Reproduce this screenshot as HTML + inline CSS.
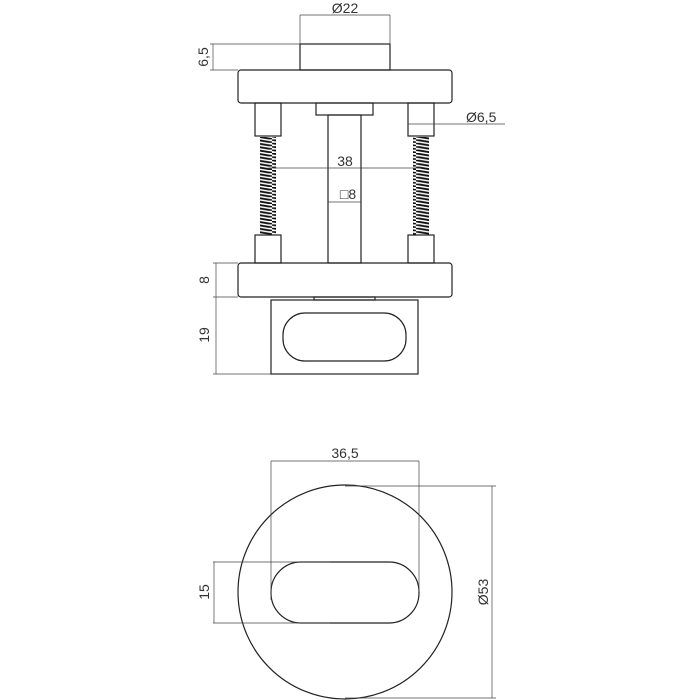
<!DOCTYPE html>
<html><head><style>body{margin:0;background:#fff}svg{display:block}</style></head><body>
<svg width="700" height="700" viewBox="0 0 700 700" xmlns="http://www.w3.org/2000/svg" font-family="Liberation Sans, sans-serif" fill="none" stroke="#222" stroke-width="1.2">
<defs>
<pattern id="coil" width="16" height="3.4" patternUnits="userSpaceOnUse">
<line x1="0" y1="0.4" x2="16" y2="3" stroke="#111" stroke-width="1.9"/>
</pattern>
</defs>
<rect x="300" y="44" width="90" height="26"/>
<rect x="238" y="70" width="214" height="33" rx="3"/>
<rect x="255" y="103" width="26" height="33"/>
<rect x="408" y="103" width="26" height="33"/>
<rect x="255" y="235" width="26" height="28"/>
<rect x="408" y="235" width="26" height="28"/>
<rect x="260" y="137" width="16" height="98" fill="url(#coil)" stroke="none"/>
<rect x="413" y="137" width="16" height="98" fill="url(#coil)" stroke="none"/>
<rect x="316" y="103" width="57" height="12"/>
<rect x="328" y="115" width="33" height="148"/>
<rect x="238" y="263" width="214" height="34" rx="3"/>
<rect x="314" y="297" width="61" height="3"/>
<rect x="271" y="300" width="147" height="74"/>
<rect x="283" y="313" width="123" height="48" rx="22"/>
<g stroke-width="0.7" stroke="#444">
<line x1="300" y1="15" x2="390" y2="15"/><line x1="300" y1="15" x2="300" y2="44"/><line x1="390" y1="15" x2="390" y2="44"/>
<line x1="210" y1="44" x2="300" y2="44"/><line x1="210" y1="70" x2="238" y2="70"/><line x1="213" y1="44" x2="213" y2="70"/>
<line x1="408" y1="124" x2="505" y2="124"/>
<line x1="268" y1="168" x2="421" y2="168"/>
<line x1="328" y1="202" x2="361" y2="202"/>
<line x1="213" y1="263" x2="238" y2="263"/><line x1="213" y1="297" x2="238" y2="297"/><line x1="216" y1="263" x2="216" y2="374"/>
<line x1="213" y1="374" x2="271" y2="374"/>
</g>
<g fill="#333" stroke="none" font-size="14">
<text x="345" y="13" text-anchor="middle">Ø22</text>
<text transform="translate(208,57) rotate(-90)" text-anchor="middle">6,5</text>
<text x="466" y="122">Ø6,5</text>
<text x="345" y="166" text-anchor="middle">38</text>
<text x="348" y="199" text-anchor="middle">□8</text>
<text transform="translate(209,280) rotate(-90)" text-anchor="middle">8</text>
<text transform="translate(209,335) rotate(-90)" text-anchor="middle">19</text>
<text x="345" y="458" text-anchor="middle">36,5</text>
<text transform="translate(488,592) rotate(-90)" text-anchor="middle">Ø53</text>
<text transform="translate(209,592) rotate(-90)" text-anchor="middle">15</text>
</g>
<circle cx="345" cy="592" r="107"/>
<rect x="271" y="562" width="148" height="61" rx="30"/>
<g stroke-width="0.7" stroke="#444">
<line x1="271" y1="461" x2="419" y2="461"/><line x1="271" y1="461" x2="271" y2="600"/><line x1="419" y1="461" x2="419" y2="592"/>
<line x1="345" y1="486" x2="496" y2="486"/><line x1="492" y1="486" x2="492" y2="698"/><line x1="345" y1="698" x2="496" y2="698"/>
<line x1="213" y1="562" x2="330" y2="562"/><line x1="213" y1="623" x2="330" y2="623"/><line x1="214" y1="562" x2="214" y2="623"/>
</g>
</svg>
</body></html>
